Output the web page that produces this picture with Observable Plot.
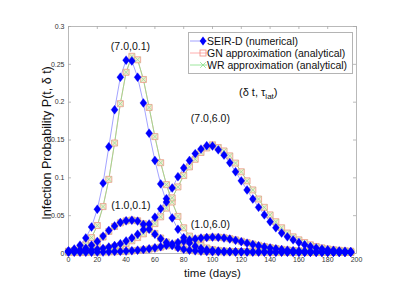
<!DOCTYPE html>
<html>
<head>
<meta charset="utf-8">
<script src="https://cdn.jsdelivr.net/npm/d3@7"></script>
<script src="https://cdn.jsdelivr.net/npm/@observablehq/plot@0.6"></script>
<style>
  html, body { margin: 0; padding: 0; background: #fff; }
  #wrap { position: relative; width: 410px; height: 290px; font-family: "Liberation Sans", Arial, Helvetica, sans-serif; }
  #legend { position: absolute; left: 188px; top: 32px; width: 163px; height: 40px; border: 1px solid #b4b4b4; background: #fff; font-size: 10.5px; color: #111; }
  .lrow { position: absolute; left: 0; height: 12px; line-height: 12px; white-space: nowrap; }
  .lrow svg { position: absolute; left: 1px; top: 0; }
  .lrow span { position: absolute; left: 18px; top: 0; }
  #param { position: absolute; left: 239px; top: 86px; font-size: 11px; color: #111; white-space: nowrap; }
  #param sub { font-size: 8px; vertical-align: -3px; line-height: 0; }
</style>
</head>
<body>
<div id="wrap">
  <div id="chart"></div>
  <div id="legend">
    <div class="lrow" style="top:2px"><svg width="17" height="12"><line x1="0" y1="6" x2="17" y2="6" stroke="#8c8cff" stroke-width="0.8"/><path d="M13,1.5L16.3,6L13,10.5L9.7,6Z" fill="#0000ff"/></svg><span>SEIR-D (numerical)</span></div>
    <div class="lrow" style="top:14px"><svg width="17" height="12"><line x1="0" y1="6" x2="17" y2="6" stroke="#ff9a9a" stroke-width="0.8"/><rect x="10" y="3" width="6" height="6" fill="none" stroke="#f08a80" stroke-width="0.8"/></svg><span>GN approximation (analytical)</span></div>
    <div class="lrow" style="top:26px"><svg width="17" height="12"><line x1="0" y1="6" x2="17" y2="6" stroke="#86e086" stroke-width="0.8"/><path d="M10.2,3.2L15.8,8.8M15.8,3.2L10.2,8.8" stroke="#86e086" stroke-width="0.8"/></svg><span>WR approximation (analytical)</span></div>
  </div>
  <div id="param">(δ t, τ<sub>lat</sub>)</div>
</div>
<script>
// ---- sampling days ----
const days = [0,4,8,12,16,20,24,28,32,36,40,44,48,52,56,60,64,68,72,76,80,84,88,92,96,100,104,108,112,116,120,124,128,132,136,140,144,148,152,156,160,164,168,172,176,180,184,188,192,196];

// ---- scenarios (δt, τlat) ----
const scenarios = ["(7.0,0.1)", "(7.0,6.0)", "(1.0,0.1)", "(1.0,6.0)"];

// ---- SEIR-D (numerical) ----
const seir_7_01 = [0.0035,0.006,0.011,0.0205,0.035,0.0585,0.093,0.141,0.190,0.233,0.2555,0.2545,0.233,0.199,0.159,0.123,0.092,0.068,0.047,0.032,0.021,0.014,0.0095,0.0068,0.005,0.0039,0.0032,0.0028,0.0026,0.0024,0.0023,0.0022,0.0021,0.0021,0.0020,0.0020,0.0019,0.0019,0.0018,0.0018,0.0018,0.0017,0.0017,0.0017,0.0016,0.0016,0.0016,0.0016,0.0015,0.0015];
const seir_7_60 = [0.003,0.003,0.0033,0.0038,0.0045,0.0055,0.0068,0.0085,0.0105,0.013,0.0165,0.0205,0.0255,0.0315,0.039,0.048,0.059,0.0725,0.0865,0.1015,0.113,0.123,0.132,0.138,0.1425,0.1420,0.137,0.130,0.120,0.108,0.096,0.084,0.072,0.061,0.051,0.042,0.034,0.027,0.022,0.018,0.0145,0.0115,0.0092,0.0074,0.006,0.005,0.0042,0.0035,0.003,0.0026];
const seir_1_01 = [0.0025,0.003,0.0045,0.007,0.011,0.016,0.023,0.0305,0.0365,0.041,0.0432,0.0440,0.0428,0.0385,0.032,0.0255,0.0195,0.0145,0.0105,0.0077,0.0057,0.0044,0.0035,0.0029,0.0025,0.0023,0.0022,0.0021,0.0021,0.002,0.002,0.002,0.0019,0.0019,0.0019,0.0018,0.0018,0.0018,0.0018,0.0017,0.0017,0.0017,0.0017,0.0016,0.0016,0.0016,0.0016,0.0015,0.0015,0.0015];
const seir_1_60 = [0.0015,0.0015,0.0015,0.0016,0.0017,0.0018,0.002,0.0022,0.0025,0.0028,0.0032,0.0037,0.0044,0.0052,0.0062,0.0075,0.009,0.0107,0.0126,0.0145,0.0162,0.0178,0.0192,0.0204,0.0212,0.0216,0.0213,0.0204,0.0191,0.0174,0.0156,0.0137,0.0119,0.0102,0.0087,0.0074,0.0062,0.0052,0.0044,0.0038,0.0033,0.0029,0.0026,0.0024,0.0022,0.0021,0.002,0.0019,0.0018,0.0018];

// ---- GN approximation (analytical) ----
const gn_7_01 = [0.0025,0.0037,0.0063,0.0115,0.021,0.037,0.062,0.098,0.146,0.198,0.2395,0.2606,0.256,0.230,0.193,0.1545,0.120,0.091,0.068,0.049,0.034,0.023,0.0155,0.0105,0.0073,0.0053,0.0041,0.0033,0.0028,0.0025,0.0024,0.0023,0.0022,0.0021,0.0021,0.0020,0.0020,0.0019,0.0019,0.0018,0.0018,0.0018,0.0017,0.0017,0.0017,0.0016,0.0016,0.0016,0.0015,0.0015];
const gn_7_60 = [0.003,0.003,0.003,0.0034,0.0039,0.0046,0.0056,0.007,0.0087,0.0107,0.0133,0.0168,0.021,0.026,0.032,0.0395,0.0485,0.060,0.0735,0.088,0.103,0.1145,0.1245,0.1335,0.1395,0.1436,0.1400,0.1355,0.129,0.1195,0.108,0.096,0.084,0.072,0.061,0.051,0.042,0.034,0.027,0.022,0.018,0.0145,0.0115,0.0092,0.0074,0.006,0.005,0.0042,0.0035,0.003];
const gn_1_01 = [0.0024,0.0029,0.0042,0.0065,0.0102,0.015,0.0218,0.0292,0.0357,0.0405,0.0431,0.0442,0.0433,0.0393,0.0332,0.0265,0.0204,0.0152,0.011,0.0081,0.006,0.0046,0.0036,0.003,0.0026,0.0023,0.0022,0.0021,0.0021,0.002,0.002,0.002,0.0019,0.0019,0.0019,0.0018,0.0018,0.0018,0.0018,0.0017,0.0017,0.0017,0.0017,0.0016,0.0016,0.0016,0.0016,0.0015,0.0015,0.0015];
const gn_1_60 = [0.0015,0.0015,0.0015,0.0015,0.0016,0.0017,0.0019,0.0021,0.0023,0.0026,0.003,0.0035,0.0041,0.0049,0.0058,0.007,0.0084,0.0101,0.0119,0.0139,0.0157,0.0174,0.0189,0.0201,0.021,0.0216,0.0215,0.0208,0.0196,0.018,0.0162,0.0143,0.0125,0.0108,0.0092,0.0078,0.0066,0.0055,0.0047,0.004,0.0035,0.003,0.0027,0.0025,0.0023,0.0021,0.002,0.0019,0.0019,0.0018];

// ---- WR approximation (analytical) ----
const wr_7_01 = [0.0025,0.0037,0.0063,0.0115,0.021,0.037,0.062,0.098,0.146,0.198,0.2395,0.2603,0.2562,0.2302,0.193,0.1545,0.120,0.091,0.068,0.049,0.034,0.023,0.0155,0.0105,0.0073,0.0053,0.0041,0.0033,0.0028,0.0025,0.0024,0.0023,0.0022,0.0021,0.0021,0.0020,0.0020,0.0019,0.0019,0.0018,0.0018,0.0018,0.0017,0.0017,0.0017,0.0016,0.0016,0.0016,0.0015,0.0015];
const wr_7_60 = [0.003,0.003,0.003,0.0034,0.0039,0.0046,0.0056,0.007,0.0087,0.0107,0.0133,0.0168,0.021,0.026,0.032,0.0395,0.0485,0.060,0.0735,0.088,0.103,0.1145,0.1245,0.1335,0.1395,0.1434,0.1401,0.1355,0.129,0.1195,0.108,0.096,0.084,0.072,0.061,0.051,0.042,0.034,0.027,0.022,0.018,0.0145,0.0115,0.0092,0.0074,0.006,0.005,0.0042,0.0035,0.003];
const wr_1_01 = [0.0024,0.0029,0.0042,0.0065,0.0102,0.015,0.0218,0.0292,0.0357,0.0405,0.0431,0.0441,0.0433,0.0393,0.0332,0.0265,0.0204,0.0152,0.011,0.0081,0.006,0.0046,0.0036,0.003,0.0026,0.0023,0.0022,0.0021,0.0021,0.002,0.002,0.002,0.0019,0.0019,0.0019,0.0018,0.0018,0.0018,0.0018,0.0017,0.0017,0.0017,0.0017,0.0016,0.0016,0.0016,0.0016,0.0015,0.0015,0.0015];
const wr_1_60 = [0.0015,0.0015,0.0015,0.0015,0.0016,0.0017,0.0019,0.0021,0.0023,0.0026,0.003,0.0035,0.0041,0.0049,0.0058,0.007,0.0084,0.0101,0.0119,0.0139,0.0157,0.0174,0.0189,0.0201,0.021,0.0216,0.0215,0.0208,0.0196,0.018,0.0162,0.0143,0.0125,0.0108,0.0092,0.0078,0.0066,0.0055,0.0047,0.004,0.0035,0.003,0.0027,0.0025,0.0023,0.0021,0.002,0.0019,0.0019,0.0018];

// ---- axis ticks ----
const xTicks = [0,20,40,60,80,100,120,140,160,180,200];
const xTickLabels = ["0","20","40","60","80","100","120","140","160","180","200"];
const yTicks = [0,0.05,0.1,0.15,0.2,0.25,0.3];
const yTickLabels = ["0","0.05","0.1","0.15","0.2","0.25","0.3"];

// ---- curve annotations (data coordinates) ----
const labelText = ["(7.0,0.1)", "(7.0,6.0)", "(1.0,0.1)", "(1.0,6.0)"];
const labelDay = [43, 98.5, 43.3, 98.5];
const labelP = [0.274, 0.178, 0.0634, 0.0383];

// ---- build tables ----
function rows(seriesList) {
  const out = [];
  seriesList.forEach((arr, s) => arr.forEach((p, i) => out.push({scenario: scenarios[s], day: days[i], p})));
  return out;
}
const seirRows = rows([seir_7_01, seir_7_60, seir_1_01, seir_1_60]);
const gnRows = rows([gn_7_01, gn_7_60, gn_1_01, gn_1_60]);
const wrRows = rows([wr_7_01, wr_7_60, wr_1_01, wr_1_60]);

const diamond = {
  draw(context, size) {
    const r = Math.sqrt(size / Math.PI);
    const h = r * 1.35, w = r * 1.05;
    context.moveTo(0, -h);
    context.lineTo(w, 0);
    context.lineTo(0, h);
    context.lineTo(-w, 0);
    context.closePath();
  }
};

const frameColor = "#a8a8a8";
const W = 410, H = 290, mL = 68, mR = 54, mT = 26, mB = 37;
const innerW = W - mL - mR, innerH = H - mT - mB;

const chart = Plot.plot({
  width: W,
  height: H,
  marginLeft: mL,
  marginRight: mR,
  marginTop: mT,
  marginBottom: mB,
  style: {background: "#fff", fontFamily: "'Liberation Sans', Arial, Helvetica, sans-serif", color: "#262626"},
  x: {domain: [0, 200]},
  y: {domain: [0, 0.3]},
  marks: [
    Plot.frame({stroke: frameColor, strokeWidth: 0.8}),
    Plot.ruleX(xTicks, {x: d => d, insetTop: innerH - 3, stroke: frameColor, strokeWidth: 0.8}),
    Plot.ruleX(xTicks, {x: d => d, insetBottom: innerH - 3, stroke: frameColor, strokeWidth: 0.8}),
    Plot.ruleY(yTicks, {y: d => d, insetRight: innerW - 3, stroke: frameColor, strokeWidth: 0.8}),
    Plot.ruleY(yTicks, {y: d => d, insetLeft: innerW - 3, stroke: frameColor, strokeWidth: 0.8}),
    Plot.axisX(xTicks, {tickSize: 0, tickPadding: 4, fontSize: 7, label: null, fill: "#333",
      tickFormat: d => xTickLabels[xTicks.indexOf(d)]}),
    Plot.axisY(yTicks, {tickSize: 0, tickPadding: 4, fontSize: 7, label: null, fill: "#333",
      tickFormat: d => yTickLabels[yTicks.indexOf(d)]}),
    // lines
    Plot.line(seirRows, {x: "day", y: "p", z: "scenario", stroke: "#8c8cff", strokeWidth: 0.8}),
    Plot.line(gnRows, {x: "day", y: "p", z: "scenario", stroke: "#ff9a9a", strokeWidth: 0.8}),
    Plot.line(wrRows, {x: "day", y: "p", z: "scenario", stroke: "#86e086", strokeWidth: 0.8}),
    // GN squares and WR crosses
    Plot.dot(gnRows, {x: "day", y: "p", symbol: "square", r: 3.4, fill: "#f3e9d2", stroke: "#ec9a88", strokeWidth: 0.8}),
    Plot.dot(wrRows, {x: "day", y: "p", symbol: "times", r: 2.6, stroke: "#8fdc8f", strokeWidth: 0.7}),
    // SEIR-D diamonds on top
    Plot.dot(seirRows, {x: "day", y: "p", symbol: diamond, r: 3.3, fill: "#0000ff", stroke: "#0000ff", strokeWidth: 0.3}),
    // annotations
    Plot.text(labelText, {x: (d, i) => labelDay[i], y: (d, i) => labelP[i], text: d => d, fontSize: 10.5, fill: "#111"}),
    Plot.text(["time (days)"], {frameAnchor: "bottom", dy: 20, textAnchor: "middle", lineAnchor: "middle", text: d => d, fontSize: 11.5, fill: "#111"}),
    Plot.text(["Infection Probability P(t, δ t)"], {frameAnchor: "left", dx: -22, dy: 3, rotate: -90, textAnchor: "middle", lineAnchor: "middle", text: d => d, fontSize: 12.5, fill: "#111"})
  ]
});
document.getElementById("chart").appendChild(chart);
</script>
</body>
</html>
